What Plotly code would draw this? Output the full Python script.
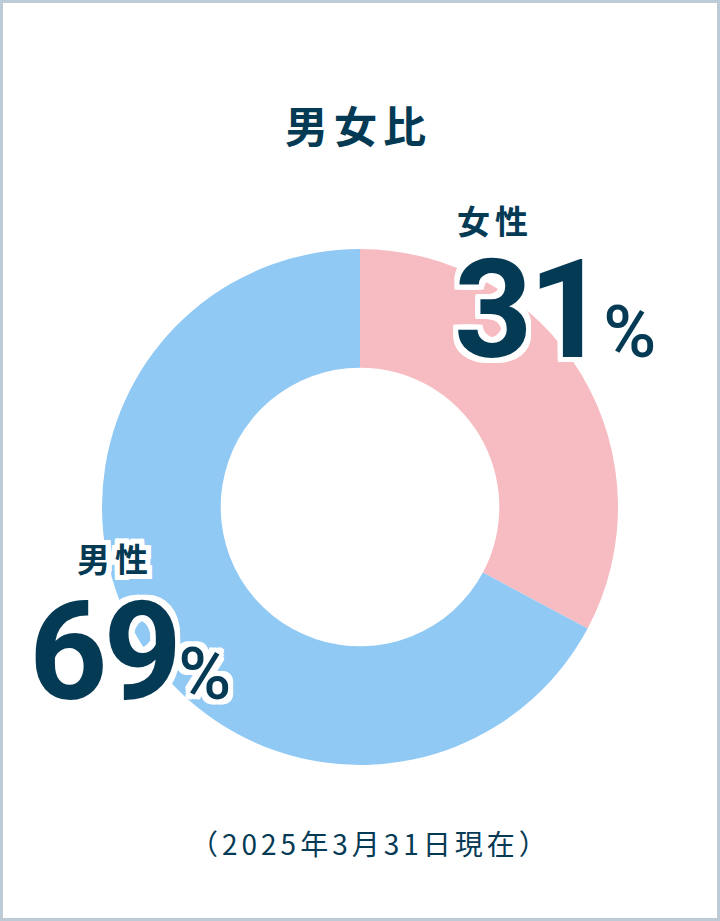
import plotly.graph_objects as go

labels = ["女性", "男性"]
pct_labels = [31, 69]          # numbers printed on the chart
arc_values = [32.8, 67.2]      # share drawn by the ring
colors = ["#f7bcc2", "#91c9f5"]
title_text = "男女比"
note_text = "（2025年3月31日現在）"

navy = "#053a55"
outline = ", ".join(f"{dx}px {dy}px 0 #fff"
                    for dx in (-5, -3, 0, 3, 5) for dy in (-5, -3, 0, 3, 5))

W, H = 720, 921

fig = go.Figure(go.Pie(
    labels=labels,
    values=arc_values,
    hole=0.54,
    sort=False,
    direction="clockwise",
    rotation=0,
    marker=dict(colors=colors, line=dict(width=0)),
    textinfo="none",
    hoverinfo="skip",
    domain=dict(x=[102 / W, 618 / W], y=[1 - 765 / H, 1 - 249 / H]),
))


def px(x, y):
    return x / W, 1 - y / H


def note(xp, yp, text, font):
    x, y = px(xp, yp)
    fig.add_annotation(x=x, y=y, text=text, showarrow=False,
                       xanchor="center", yanchor="middle", font=font)


def big_number(val):
    return (f"<b><span style='letter-spacing:-4px'>{val}</span></b>"
            "<span style='font-size:72px;font-weight:500'>%</span>")


note(358, 124, f"<b><span style='letter-spacing:6px'>{title_text}</span></b>",
     dict(family="Noto Sans CJK JP", size=43, color=navy))
note(371, 843, f"<span style='letter-spacing:4px'>{note_text}</span>",
     dict(family="Noto Sans CJK JP", size=28, color=navy))

label_pos = {"女性": (495, 220), "男性": (115, 558)}
pct_pos = {"女性": (555, 310), "男性": (130, 652)}
for lab, val in zip(labels, pct_labels):
    note(*label_pos[lab], f"<b><span style='letter-spacing:5px'>{lab}</span></b>",
         dict(family="Noto Sans CJK JP", size=33, color=navy, shadow=outline))
    note(*pct_pos[lab], big_number(val),
         dict(family="Roboto", size=137, color=navy, shadow=outline))

fig.add_shape(type="rect", xref="paper", yref="paper", x0=0, x1=1, y0=0, y1=1,
              line=dict(color="#bccbd5", width=6))

fig.update_layout(width=W, height=H, margin=dict(l=0, r=0, t=0, b=0),
                  paper_bgcolor="white", plot_bgcolor="white", showlegend=False)

fig.write_html("out.html", config={"displayModeBar": False},
               post_script="document.body.style.margin='0';")
